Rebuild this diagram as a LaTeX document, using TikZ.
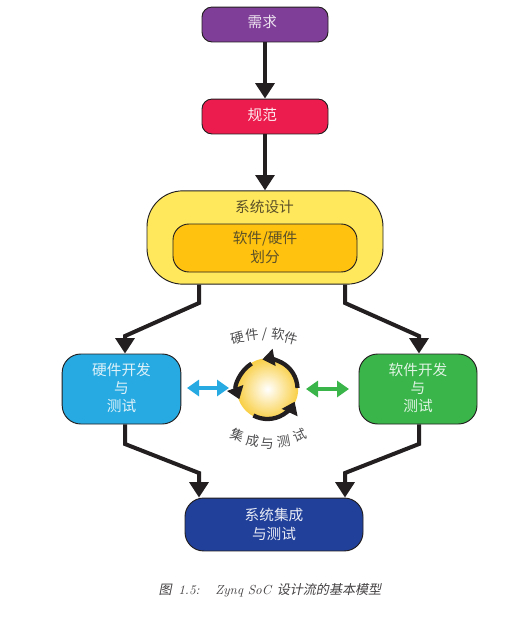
\documentclass[tikz,border=0pt]{standalone}
\usepackage{fontspec}
\newfontfamily\cjk{Noto Sans CJK SC}[Scale=1]
\newfontfamily\cjkit{Noto Sans CJK SC}[FakeSlant=0.2]
\usetikzlibrary{arrows.meta,positioning}
\definecolor{ink}{HTML}{231F20}
\definecolor{lab}{HTML}{4D4D4F}
\definecolor{dtxt}{HTML}{5C5128}
\definecolor{cpurple}{HTML}{7F3F98}
\definecolor{cred}{HTML}{ED1C4E}
\definecolor{cyellow}{HTML}{FFE85C}
\definecolor{corange}{HTML}{FFC20E}
\definecolor{cblue}{HTML}{27AAE1}
\definecolor{cgreen}{HTML}{39B54A}
\definecolor{cnavy}{HTML}{21409A}
\definecolor{cball}{HTML}{F9CF45}
\tikzset{
  x=0.75pt,y=-0.75pt,
  boxs/.style={draw=ink,line width=0.7pt,align=center,inner sep=0pt,font=\cjk\fontsize{11}{14}\selectfont,text=#1},
  flow/.style={draw=ink,line width=3pt,-{Triangle[width=14pt,length=11.5pt]},line join=miter},
  dbl/.style={draw=#1,line width=3.6pt,{Triangle[width=12pt,length=9pt]}-{Triangle[width=12pt,length=9pt]}},
  cyc/.style={draw=ink,line width=3.2pt,-{Triangle[width=12.5pt,length=9pt]}},
  arc/.style={font=\cjk\fontsize{10}{12}\selectfont,text=lab,inner sep=0pt},
}
\begin{document}
\begin{tikzpicture}
\useasboundingbox (0,0) rectangle (531,639);
\fill[white] (0,0) rectangle (531,639);
% boxes
\node[boxs=white!85!cpurple,fill=cpurple,rounded corners=7.5pt,minimum width=94.5pt,minimum height=26.2pt] (need) at (265,24.5) {\hspace{-4pt}\raisebox{4pt}{需求}};
\node[boxs=white!92!cred,fill=cred,rounded corners=7.5pt,minimum width=94.5pt,minimum height=26.2pt] (spec) at (265,116.5) {\hspace{-4pt}\raisebox{3.2pt}{规范}};
\node[boxs=ink,fill=cyellow,rounded corners=27pt,minimum width=177pt,minimum height=70pt] (sys) at (265,237.5) {};
\node[boxs=dtxt,fill=corange,rounded corners=12pt,minimum width=138pt,minimum height=36pt] (part) at (265,248) {\raisebox{1.6pt}{\shortstack{软件/硬件\\[0pt]划分}}};
\node[font=\cjk\fontsize{11}{14}\selectfont,text=dtxt,inner sep=0pt] (systxt) at (264.5,207) {系统设计};
\node[boxs=white!85!cblue,fill=cblue,rounded corners=14pt,minimum width=89pt,minimum height=52.5pt] (hw) at (121.5,389) {\raisebox{3pt}{\shortstack{硬件开发\\[0.5pt]与\\[0.5pt]测试}}};
\node[boxs=white!85!cgreen,fill=cgreen,rounded corners=14pt,minimum width=88.5pt,minimum height=52.5pt] (sw) at (418,389) {\raisebox{3pt}{\shortstack{软件开发\\[0.5pt]与\\[0.5pt]测试}}};
\node[boxs=white!90!cnavy,fill=cnavy,rounded corners=14pt,minimum width=133.5pt,minimum height=39.7pt] (integ) at (274,524.5) {系统集成\\与测试};
% vertical flows
\draw[flow] (need.south) -- (spec.north);
\draw[flow] (spec.south) -- (sys.north);
% branching flows
\draw[flow] (sys.south -| 199,0) -- (199,303) -- (125,336) -- (hw.north -| 125,0);
\draw[flow] (sys.south -| 345,0) -- (345,303) -- (419,336) -- (sw.north -| 419,0);
\draw[flow] (hw.south -| 125,0) -- (125,444) -- (199,473) -- (integ.north -| 199,0);
\draw[flow] (sw.south -| 419,0) -- (419,444) -- (345,473) -- (integ.north -| 345,0);
% centre ball
\node[circle,minimum size=46pt,inner sep=0pt,inner color=white,outer color=cball] (ball) at (267.5,389) {};
\coordinate (bla) at (187,388); \coordinate (blb) at (229,388);
\coordinate (gra) at (306,389); \coordinate (grb) at (349,389);
\draw[dbl=cblue] (bla) -- (blb);
\draw[dbl=cgreen] (gra) -- (grb);
\draw[cyc] (ball.center) ++(-2:30) arc (-2:-100:30);
\draw[cyc] (ball.center) ++(-122:30) arc (-122:-200:30);
\draw[cyc] (ball.center) ++(-242:30) arc (-242:-335:30);
% curved labels
\node[arc,rotate=15] (a1) at (238,338.5) {硬};
\node[arc,rotate=7] (a2) at (252,335) {件};
\node[arc] (a3) at (264.5,334) {/};
\node[arc,rotate=-6] (a4) at (278,334) {软};
\node[arc,rotate=-15] (a5) at (291.5,338) {件};
\node[arc,rotate=-20] (b1) at (238,435) {集};
\node[arc,rotate=-10] (b2) at (252.5,441) {成};
\node[arc] (b3) at (267,444) {与};
\node[arc,rotate=10] (b4) at (283.5,441.5) {测};
\node[arc,rotate=22] (b5) at (300,435) {试};
% caption
\node[inner sep=0pt,text=ink!85,font=\fontsize{9.8}{11}\selectfont] (cap) at (270,590) {{\cjkit 图}\hspace{0.5em}\textit{1.5:}\hspace{1.2em}\textit{Zynq SoC} {\cjkit 设计流的基本模型}};
\end{tikzpicture}
\end{document}
